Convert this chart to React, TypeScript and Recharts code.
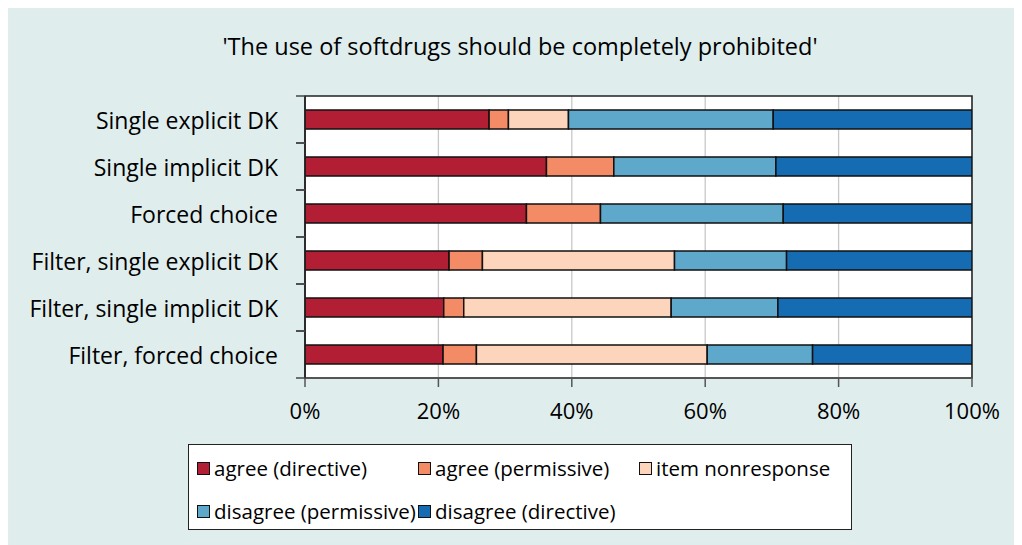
import { BarChart, Bar, XAxis, YAxis, CartesianGrid, ReferenceArea } from 'recharts';

const categories = [
  'Single explicit DK',
  'Single implicit DK',
  'Forced choice',
  'Filter, single explicit DK',
  'Filter, single implicit DK',
  'Filter, forced choice',
];

const agreeDirective = [27.6, 36.2, 33.2, 21.6, 20.8, 20.7];
const agreePermissive = [2.9, 10.1, 11.1, 5.0, 3.0, 5.0];
const itemNonresponse = [9.0, 0, 0, 28.8, 31.1, 34.6];
const disagreePermissive = [30.7, 24.3, 27.4, 16.8, 16.0, 15.8];
const disagreeDirective = [29.8, 29.4, 28.3, 27.8, 29.1, 23.9];

const xTicks = [0, 20, 40, 60, 80, 100];

const series = [
  { key: 'agreeDirective', name: 'agree (directive)', color: '#B21F35', values: agreeDirective },
  { key: 'agreePermissive', name: 'agree (permissive)', color: '#F48B67', values: agreePermissive },
  { key: 'itemNonresponse', name: 'item nonresponse', color: '#FDD5BD', values: itemNonresponse },
  { key: 'disagreePermissive', name: 'disagree (permissive)', color: '#5EA8CB', values: disagreePermissive },
  { key: 'disagreeDirective', name: 'disagree (directive)', color: '#166CB2', values: disagreeDirective },
];

const data = categories.map((name, i) => {
  const row: Record<string, string | number> = { name };
  series.forEach((s) => {
    row[s.key] = s.values[i];
  });
  return row;
});

const W = 1014;
const H = 537;
const MARGIN = { top: 88, right: 50, bottom: 127, left: 0 };
const X_AXIS_H = 40;
const Y_AXIS_W = 297;
const PLOT_H = H - MARGIN.top - MARGIN.bottom - X_AXIS_H;
const HALF_ROW = PLOT_H / categories.length / 2;
const FONT = '"Open Sans", sans-serif';

function CategoryTick(props: any) {
  const { x, y, payload } = props;
  return (
    <g>
      <text x={x - 27} y={y} textAnchor="end" dominantBaseline="central" fontSize={23} fontFamily={FONT} fill="#000">
        {payload.value}
      </text>
      <line x1={x - 9} x2={x} y1={y - HALF_ROW} y2={y - HALF_ROW} stroke="#444" strokeWidth={1.5} />
      <line x1={x - 9} x2={x} y1={y + HALF_ROW} y2={y + HALF_ROW} stroke="#444" strokeWidth={1.5} />
    </g>
  );
}

export default function App() {
  return (
    <div style={{ position: 'relative', width: W, height: H, background: '#DFEDED', fontFamily: FONT }}>
      <div
        style={{
          position: 'absolute',
          top: 22,
          left: 5,
          width: W,
          textAlign: 'center',
          fontSize: 23.5,
          color: '#000',
        }}
      >
        'The use of softdrugs should be completely prohibited'
      </div>
      <BarChart width={W} height={H} data={data} layout="vertical" margin={MARGIN} barSize={19}>
        <CartesianGrid horizontal={false} vertical stroke="#C8C8C8" strokeWidth={1.3} fill="#fff" />
        <XAxis
          type="number"
          domain={[0, 100]}
          ticks={xTicks}
          tickFormatter={(v) => `${v}%`}
          height={X_AXIS_H}
          stroke="#555"
          strokeWidth={1.5}
          tickSize={9}
          tickMargin={16}
          tick={{ fill: '#000', fontSize: 22, fontFamily: FONT }}
          allowDataOverflow
        />
        <YAxis
          type="category"
          dataKey="name"
          width={Y_AXIS_W}
          axisLine={{ stroke: '#222', strokeWidth: 1.5 }}
          tickLine={false}
          tickSize={0}
          tickMargin={0}
          tick={<CategoryTick />}
          interval={0}
        />
        {series.map((s) => (
          <Bar
            key={s.key}
            dataKey={s.key}
            name={s.name}
            stackId="a"
            fill={s.color}
            stroke="#111"
            strokeWidth={1.5}
            isAnimationActive={false}
          />
        ))}
        <ReferenceArea x1={0} x2={100} fill="none" stroke="#222" strokeWidth={1.5} ifOverflow="visible" />
      </BarChart>
      <div
        style={{
          position: 'absolute',
          left: 180,
          top: 436,
          width: 664,
          height: 86,
          boxSizing: 'border-box',
          background: '#fff',
          border: '1.5px solid #222',
          display: 'grid',
          gridTemplateColumns: '221px 221px 221px',
          gridTemplateRows: '44px 42px',
          paddingLeft: 8,
          paddingTop: 1,
        }}
      >
        {series.map((s) => (
          <div key={s.key} style={{ display: 'flex', alignItems: 'center', fontSize: 20.5, color: '#000', whiteSpace: 'nowrap' }}>
            <span
              style={{
                display: 'inline-block',
                width: 11,
                height: 11,
                background: s.color,
                border: '1px solid #111',
                marginRight: 4,
              }}
            />
            {s.name}
          </div>
        ))}
      </div>
    </div>
  );
}
